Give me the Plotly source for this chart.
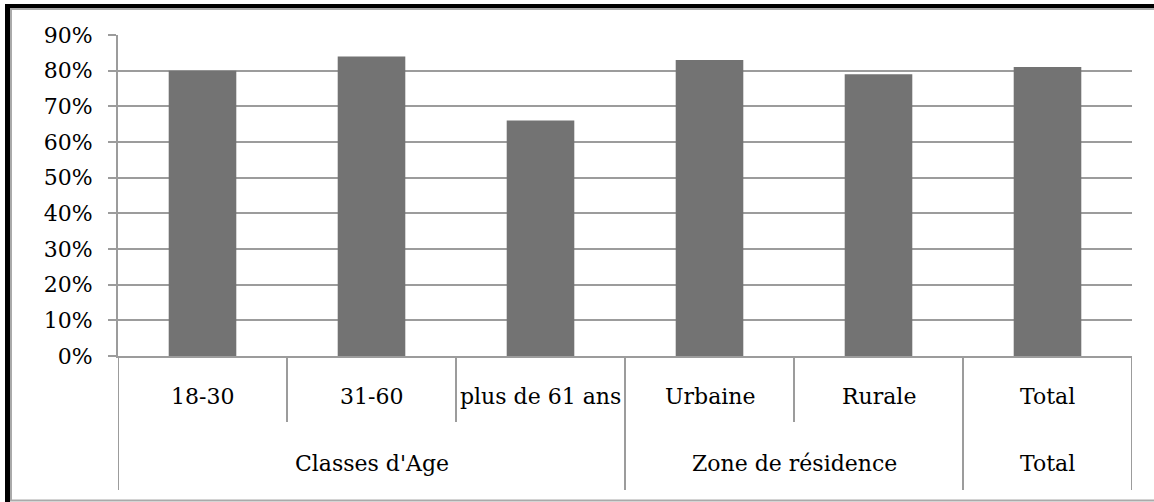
import plotly.graph_objects as go

categories = ["18-30", "31-60", "plus de 61 ans", "Urbaine", "Rurale", "Total"]
values = [0.80, 0.84, 0.66, 0.83, 0.79, 0.81]
groups = ["Classes d'Age", "Zone de résidence", "Total"]
group_members = [[0, 1, 2], [3, 4], [5]]
y_ticks = [0, 0.1, 0.2, 0.3, 0.4, 0.5, 0.6, 0.7, 0.8, 0.9]

W, H = 1154, 502
ML, MR, MT, MB = 118, 22, 35, 146
PW, PH = W - ML - MR, H - MT - MB

def px(X):
    return (X - ML) / PW

def py(Y):
    return (H - MB - Y) / PH

FONT = "DejaVu Serif"
GRID = "#9c9c9c"
BAR = "#737373"
FS = 22

fig = go.Figure()
fig.add_trace(go.Bar(
    x=list(range(len(categories))), y=values,
    marker=dict(color=BAR, line=dict(width=0)),
    width=0.4, hoverinfo="skip",
))

shapes = []
# category separators
group_bounds = set()
for g in group_members:
    group_bounds.add(g[0] - 0.5)
    group_bounds.add(g[-1] + 0.5)
for i in range(len(categories) + 1):
    b = i - 0.5
    y1 = py(490) if b in group_bounds else py(422)
    shapes.append(dict(type="line", xref="x", yref="paper", x0=b, x1=b,
                       y0=0, y1=y1, line=dict(color=GRID, width=2)))

# outer frame
shapes += [
    dict(type="line", xref="paper", yref="paper", x0=px(5), x1=px(1160), y0=py(6), y1=py(6),
         line=dict(color="black", width=4)),
    dict(type="line", xref="paper", yref="paper", x0=px(7.5), x1=px(7.5), y0=py(4), y1=py(505),
         line=dict(color="black", width=5)),
    dict(type="line", xref="paper", yref="paper", x0=px(10), x1=px(1160), y0=py(9), y1=py(9),
         line=dict(color="#aaaaaa", width=2)),
    dict(type="line", xref="paper", yref="paper", x0=px(11), x1=px(11), y0=py(9), y1=py(501),
         line=dict(color="#aaaaaa", width=2)),
    dict(type="line", xref="paper", yref="paper", x0=px(10), x1=px(1160), y0=py(500.5), y1=py(500.5),
         line=dict(color="#aaaaaa", width=2)),
]

annotations = []
for i, c in enumerate(categories):
    annotations.append(dict(x=i, xref="x", y=py(397), yref="paper", text=c,
                            showarrow=False, font=dict(family=FONT, size=FS, color="black"),
                            xanchor="center", yanchor="middle"))
for g, mem in zip(groups, group_members):
    cx = (mem[0] + mem[-1]) / 2
    annotations.append(dict(x=cx, xref="x", y=py(463), yref="paper", text=g,
                            showarrow=False, font=dict(family=FONT, size=FS, color="black"),
                            xanchor="center", yanchor="middle"))

fig.update_layout(
    width=W, height=H,
    margin=dict(l=ML, r=MR, t=MT, b=MB, pad=0),
    paper_bgcolor="white", plot_bgcolor="white",
    showlegend=False,
    shapes=shapes, annotations=annotations,
    xaxis=dict(range=[-0.5, len(categories) - 0.5], showticklabels=False, showgrid=False,
               zeroline=False, showline=True, linecolor=GRID, linewidth=2, ticks=""),
    yaxis=dict(range=[0, 0.9], tickvals=y_ticks, tickformat=".0%", showgrid=True,
               gridcolor=GRID, gridwidth=2, zeroline=False, showline=True, linecolor=GRID,
               linewidth=2, ticks="outside", ticklen=8, tickcolor=GRID, tickwidth=2,
               ticklabelstandoff=11,
               tickfont=dict(family=FONT, size=FS, color="black")),
)

fig.write_html("out.html", config={"displayModeBar": False},
               post_script="document.body.style.margin='0';")
